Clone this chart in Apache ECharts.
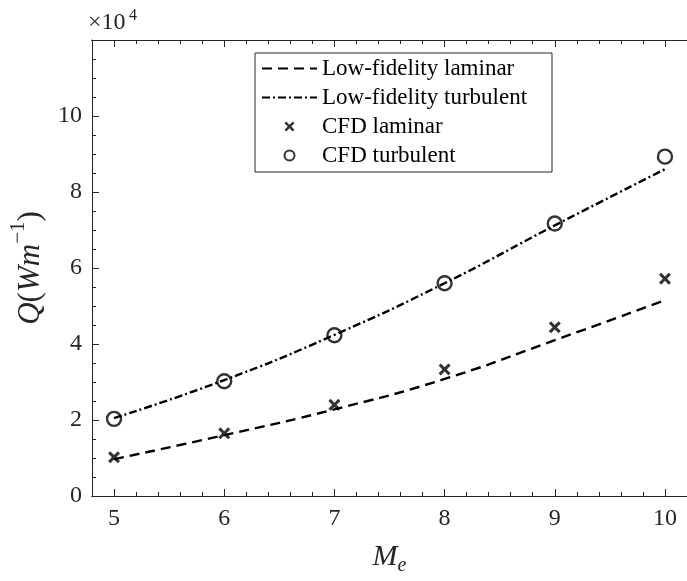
<!DOCTYPE html>
<html>
<head>
<meta charset="utf-8">
<script src="https://cdn.jsdelivr.net/npm/echarts@6/dist/echarts.min.js"></script>
<style>
  html, body { margin: 0; padding: 0; background: #fff; }
  #chart { width: 687px; height: 581px; }
</style>
</head>
<body>
<div id="chart"></div>
<script>
// Edge Mach number
const machNumbers = [5, 6, 7, 8, 9, 10];
// Heat load Q, in units of 10^4 W/m
const lowFiLaminar   = [0.97, 1.60, 2.28, 3.08, 4.10, 5.15];
const lowFiTurbulent = [2.05, 3.05, 4.24, 5.60, 7.12, 8.60];
const cfdLaminar     = [1.02, 1.65, 2.40, 3.33, 4.44, 5.72];
const cfdTurbulent   = [2.03, 3.02, 4.23, 5.60, 7.17, 8.93];

const seriesNames = ['Low-fidelity laminar', 'Low-fidelity turbulent', 'CFD laminar', 'CFD turbulent'];
const xTicks = [5, 6, 7, 8, 9, 10];
const yTicks = [0, 2, 4, 6, 8, 10];
const xRange = [4.8, 10.2];
const yRange = [0, 12];
const xMinorStep = 0.2;

const axisColor = '#262626';
const serif = 'Liberation Serif';

function pairs(xs, ys) {
  return xs.map((x, i) => [x, ys[i]]);
}

// Bottom/top x axes: one carries the major ticks and labels, the other the minor ticks
function xAxisPair(position, withLabels) {
  const line = { show: true, onZero: false, lineStyle: { color: axisColor, width: 1 } };
  const major = {
    type: 'value', gridIndex: 0, position: position,
    min: xRange[0], max: xRange[1],
    axisLine: line,
    splitLine: { show: false },
    axisTick: { show: true, inside: true, length: 7, customValues: xTicks, lineStyle: { color: axisColor } },
    axisLabel: {
      show: withLabels, customValues: xTicks, margin: 11,
      color: axisColor, fontFamily: serif, fontSize: 24, lineHeight: 24
    }
  };
  const minor = {
    type: 'value', gridIndex: 0, position: position,
    min: xRange[0], max: xRange[1], interval: xMinorStep,
    axisLine: line,
    splitLine: { show: false },
    axisTick: { show: true, inside: true, length: 4, lineStyle: { color: axisColor } },
    axisLabel: { show: false }
  };
  if (withLabels) {
    major.name = '{i|M}{s|e}';
    major.nameLocation = 'middle';
    major.nameGap = 46;
    major.nameTextStyle = {
      rich: {
        i: { fontFamily: serif, fontStyle: 'italic', fontSize: 30, lineHeight: 30, verticalAlign: 'top', color: axisColor },
        s: { fontFamily: serif, fontStyle: 'italic', fontSize: 20, lineHeight: 20, verticalAlign: 'top', padding: [14, 0, 0, 0], color: axisColor }
      }
    };
  }
  return [major, minor];
}

const chart = echarts.init(document.getElementById('chart'), null, { renderer: 'canvas' });

chart.setOption({
  animation: false,
  backgroundColor: '#fff',
  grid: { left: 87, top: 40, width: 607.5, height: 466.7, containLabel: false },
  xAxis: [...xAxisPair('bottom', true), ...xAxisPair('top', false)],
  yAxis: {
    type: 'value', min: yRange[0], max: yRange[1], interval: 2,
    axisLine: { show: true, lineStyle: { color: axisColor, width: 1 } },
    splitLine: { show: false },
    axisTick: { show: true, inside: true, length: 7, lineStyle: { color: axisColor } },
    minorTick: { show: true, splitNumber: 4, length: 4, lineStyle: { color: axisColor } },
    axisLabel: {
      customValues: yTicks, margin: 10,
      color: axisColor, fontFamily: serif, fontSize: 24, lineHeight: 24
    },
    name: '{i|Q}{n|(}{i|Wm}{s|\u22121}{n|)}',
    nameLocation: 'middle',
    nameGap: 46,
    nameTextStyle: {
      rich: {
        i: { fontFamily: serif, fontStyle: 'italic', fontSize: 31, lineHeight: 31, verticalAlign: 'bottom', color: axisColor },
        n: { fontFamily: serif, fontSize: 31, lineHeight: 31, verticalAlign: 'bottom', color: axisColor },
        s: { fontFamily: serif, fontSize: 21, lineHeight: 21, verticalAlign: 'bottom', padding: [0, 0, 17, 0], color: axisColor }
      }
    }
  },
  graphic: [
    { type: 'text', left: 88, top: 10.5, style: { text: '\u00d710', font: '24px "Liberation Serif"', fill: axisColor } },
    { type: 'text', left: 129, top: 7.5, style: { text: '4', font: '16px "Liberation Serif"', fill: axisColor } }
  ],
  legend: {
    orient: 'vertical', left: 255, top: 53,
    data: seriesNames,
    itemWidth: 55, itemHeight: 10, itemGap: 6,
    padding: [4, 6, 5, 6],
    borderColor: axisColor, borderWidth: 1, borderRadius: 0,
    backgroundColor: '#fff',
    selectedMode: false,
    textStyle: { fontFamily: serif, fontSize: 23, lineHeight: 22, color: '#000', width: 224 }
  },
  series: [
    {
      name: seriesNames[0], type: 'line', xAxisIndex: 0,
      data: pairs(machNumbers, lowFiLaminar),
      smooth: true, symbol: 'none', showSymbol: false,
      lineStyle: { color: '#000', width: 2.4, type: [10, 6] },
      itemStyle: { color: 'rgba(0,0,0,0)', borderWidth: 0 }
    },
    {
      name: seriesNames[1], type: 'line', xAxisIndex: 0,
      data: pairs(machNumbers, lowFiTurbulent),
      smooth: true, symbol: 'none', showSymbol: false,
      lineStyle: { color: '#000', width: 2.4, type: [8, 3, 2, 3] },
      itemStyle: { color: 'rgba(0,0,0,0)', borderWidth: 0 }
    },
    {
      name: seriesNames[2], type: 'scatter', xAxisIndex: 0,
      data: pairs(machNumbers, cfdLaminar),
      symbol: 'path://M0,1.8L1.8,0L5,3.2L8.2,0L10,1.8L6.8,5L10,8.2L8.2,10L5,6.8L1.8,10L0,8.2L3.2,5Z',
      symbolSize: 12,
      itemStyle: { color: '#000' }
    },
    {
      name: seriesNames[3], type: 'scatter', xAxisIndex: 0,
      data: pairs(machNumbers, cfdTurbulent),
      symbol: 'circle', symbolSize: 14,
      itemStyle: { color: 'rgba(0,0,0,0)', borderColor: '#000', borderWidth: 2.4 }
    }
  ]
});
</script>
</body>
</html>
